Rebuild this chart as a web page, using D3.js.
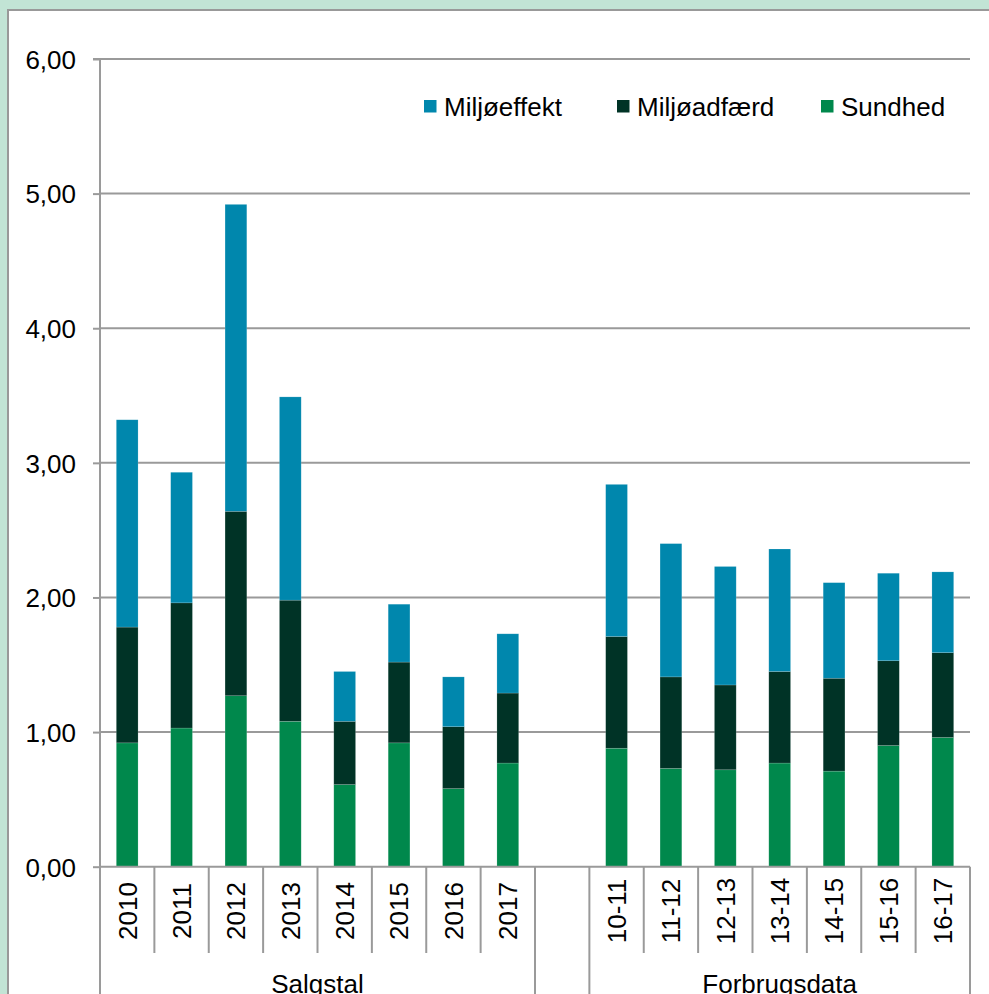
<!DOCTYPE html>
<html><head><meta charset="utf-8">
<script src="https://cdn.jsdelivr.net/npm/d3@7"></script>
<style>
html,body{margin:0;padding:0;background:#c2e4d5;overflow:hidden;}
svg{display:block;font-family:"Liberation Sans",Arial,sans-serif;}
</style></head><body>
<svg id="c" width="989" height="994"></svg>
<script>
const groups = ["Salgstal", "Forbrugsdata"];
const salgstalCats = ["2010","2011","2012","2013","2014","2015","2016","2017"];
const forbrugCats = ["10-11","11-12","12-13","13-14","14-15","15-16","16-17"];
const seriesNames = ["Sundhed","Miljøadfærd","Miljøeffekt"];
const legendOrder = ["Miljøeffekt","Miljøadfærd","Sundhed"];
const sundhed     = [0.92,1.03,1.27,1.08,0.61,0.92,0.58,0.77, 0.88,0.73,0.72,0.77,0.71,0.90,0.96];
const miljoadfaerd= [0.86,0.93,1.37,0.90,0.47,0.60,0.46,0.52, 0.83,0.68,0.63,0.68,0.69,0.63,0.63];
const miljoeffekt = [1.54,0.97,2.28,1.51,0.37,0.43,0.37,0.44, 1.13,0.99,0.88,0.91,0.71,0.65,0.60];
const yTicks = [0,1,2,3,4,5,6];
const colors = {"Miljøeffekt":"#0087ad","Miljøadfærd":"#003326","Sundhed":"#00884c"};

(function(){
const svg = d3.select("#c");
const W = 989, H = 994;
const pL = 100, pR = 970, pT = 59, pB = 866.7;

// panel
svg.append("rect").attr("x",8).attr("y",10).attr("width",W).attr("height",H)
  .attr("fill","#fff").attr("stroke","#999").attr("stroke-width",2);

const GAP = "__gap__";
const domain = [...salgstalCats, GAP, ...forbrugCats];
const allCats = [...salgstalCats, ...forbrugCats];
const x = d3.scaleBand().domain(domain).range([pL,pR]).paddingInner(0).paddingOuter(0);
const y = d3.scaleLinear().domain([0,6]).range([pB,pT]);

// gridlines
svg.append("g").selectAll("line").data(yTicks.filter(d=>d>0)).join("line")
  .attr("x1",pL).attr("x2",pR).attr("y1",d=>y(d)).attr("y2",d=>y(d))
  .attr("stroke","#9a9a9a").attr("stroke-width",2);

// data rows
const rows = allCats.map((c,i)=>({cat:c,"Sundhed":sundhed[i],"Miljøadfærd":miljoadfaerd[i],"Miljøeffekt":miljoeffekt[i]}));
const stack = d3.stack().keys(seriesNames)(rows);
const bw = x.bandwidth()*0.4;
svg.append("g").selectAll("g").data(stack).join("g")
  .attr("fill",d=>colors[d.key])
  .selectAll("rect").data(d=>d).join("rect")
  .attr("x",d=>x(d.data.cat)+(x.bandwidth()-bw)/2)
  .attr("width",bw)
  .attr("y",d=>y(d[1]))
  .attr("height",d=>y(d[0])-y(d[1]))
  .attr("stroke","rgba(255,255,255,0.25)").attr("stroke-width",0.6);

// y axis
const yAxis = d3.axisLeft(y).tickValues(yTicks).tickSize(7).tickPadding(17)
  .tickFormat(d=>d3.format(".2f")(d).replace(".",","));
const ga = svg.append("g").attr("transform",`translate(${pL},0)`).call(yAxis);
ga.select(".domain").attr("stroke","#9a9a9a").attr("stroke-width",2).attr("d",`M-7,${pT}H0V${pB}`);
ga.selectAll(".tick line").attr("stroke","#9a9a9a").attr("stroke-width",2);
ga.selectAll(".tick text").attr("font-size",26).attr("fill","#000").attr("dy","0.36em")
  .attr("font-family","'Liberation Sans',Arial,sans-serif");

// x axis baseline
svg.append("line").attr("x1",pL).attr("x2",pR).attr("y1",pB).attr("y2",pB)
  .attr("stroke","#9a9a9a").attr("stroke-width",2);

// category separators
const sepX = d3.range(domain.length+1).map(i=> i<domain.length ? x(domain[i]) : pR);
const gi = domain.indexOf(GAP);
const longIdx = new Set([0, gi, gi+1, domain.length]);
svg.append("g").selectAll("line").data(sepX.map((v,i)=>({v,i}))).join("line")
  .attr("x1",d=>d.v).attr("x2",d=>d.v).attr("y1",pB)
  .attr("y2",d=>longIdx.has(d.i)?H+2:953)
  .attr("stroke","#9a9a9a").attr("stroke-width",2);

// category labels
svg.append("g").selectAll("text").data(allCats).join("text")
  .attr("transform",d=>`translate(${x(d)+x.bandwidth()/2},911) rotate(-90)`)
  .attr("text-anchor","middle").attr("dy","0.36em")
  .attr("font-size",26).attr("fill","#000").text(d=>d);

// group labels
const gCenters = [(x(salgstalCats[0])+x(GAP))/2, (x(forbrugCats[0])+pR)/2];
svg.append("g").selectAll("text").data(groups).join("text")
  .attr("x",(d,i)=>gCenters[i]).attr("y",993)
  .attr("text-anchor","middle").attr("font-size",26).attr("fill","#000").text(d=>d);

// legend
const legX = [424, 617, 821];
const lg = svg.append("g").selectAll("g").data(legendOrder).join("g")
  .attr("transform",(d,i)=>`translate(${legX[i]},100)`);
lg.append("rect").attr("width",12.5).attr("height",12.5).attr("fill",d=>colors[d]);
lg.append("text").attr("x",20).attr("y",15.5).attr("font-size",26).attr("fill","#000").text(d=>d);
})();
</script>
</body></html>
